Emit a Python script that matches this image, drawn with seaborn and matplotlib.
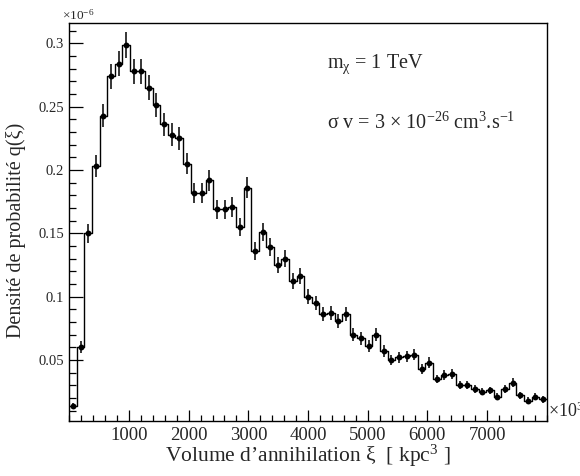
import numpy as np
import pandas as pd
import matplotlib
matplotlib.use("Agg")
import matplotlib.pyplot as plt
import seaborn as sns
from matplotlib.ticker import MultipleLocator, FixedLocator

# 63 bins over 0..8000 kpc^3 (axis scaled by 10^3)
x_min, x_max, n_bins = 0, 8000, 63

# bin contents, in units of 10^-6
density = [
    0.014, 0.060, 0.150, 0.203, 0.243, 0.274, 0.284, 0.299, 0.278, 0.278,
    0.265, 0.251, 0.236, 0.228, 0.225, 0.205, 0.182, 0.182, 0.192, 0.169,
    0.169, 0.171, 0.155, 0.186, 0.136, 0.151, 0.139, 0.125, 0.130, 0.112,
    0.116, 0.100, 0.095, 0.086, 0.087, 0.081, 0.086, 0.070, 0.067, 0.061,
    0.070, 0.057, 0.050, 0.052, 0.053, 0.054, 0.043, 0.048, 0.035, 0.038,
    0.039, 0.030, 0.030, 0.027, 0.025, 0.026, 0.021, 0.027, 0.032, 0.022,
    0.018, 0.021, 0.019,
]
# statistical errors, same units
errors = [
    0.0022, 0.0046, 0.0073, 0.0085, 0.0093, 0.0098, 0.0100, 0.0103, 0.0099, 0.0099,
    0.0097, 0.0094, 0.0091, 0.0090, 0.0089, 0.0085, 0.0080, 0.0080, 0.0082, 0.0077,
    0.0077, 0.0078, 0.0074, 0.0081, 0.0069, 0.0073, 0.0070, 0.0066, 0.0068, 0.0063,
    0.0064, 0.0059, 0.0058, 0.0055, 0.0055, 0.0054, 0.0055, 0.0050, 0.0049, 0.0046,
    0.0050, 0.0045, 0.0042, 0.0043, 0.0043, 0.0044, 0.0039, 0.0041, 0.0035, 0.0037,
    0.0037, 0.0033, 0.0033, 0.0031, 0.0030, 0.0030, 0.0027, 0.0031, 0.0034, 0.0028,
    0.0025, 0.0027, 0.0026,
]

x_ticks = [1000, 2000, 3000, 4000, 5000, 6000, 7000]
x_ticklabels = ["1000", "2000", "3000", "4000", "5000", "6000", "7000"]
y_ticks = [0.05, 0.10, 0.15, 0.20, 0.25, 0.30]
y_ticklabels = ["0.05", "0.1", "0.15", "0.2", "0.25", "0.3"]

edges = np.linspace(x_min, x_max, n_bins + 1)
centers = 0.5 * (edges[:-1] + edges[1:])
df = pd.DataFrame({"xi": centers, "q": density, "err": errors})

sns.set_style("white")
plt.rcParams["font.family"] = ["Liberation Serif", "DejaVu Serif"]
plt.rcParams["mathtext.fontset"] = "custom"
plt.rcParams["mathtext.rm"] = "Liberation Serif"
plt.rcParams["mathtext.it"] = "Liberation Serif:italic"

fig = plt.figure(figsize=(5.8, 4.76), dpi=100)
ax = fig.add_axes([0.1195, 0.1155, 0.8231, 0.8355])

# histogram outline
sns.histplot(data=df, x="xi", weights="q", bins=list(edges), element="step",
             fill=False, color="black", linewidth=1.0, ax=ax)
# error bars + markers
ax.errorbar(df["xi"], df["q"], yerr=df["err"], fmt="none", ecolor="black",
            elinewidth=1.1)
sns.scatterplot(data=df, x="xi", y="q", color="black", s=18, edgecolor="black",
                linewidth=0, ax=ax, zorder=5)

ax.set_xlim(x_min, x_max)
ax.set_ylim(0.0018, 0.3158)

ax.xaxis.set_major_locator(FixedLocator(x_ticks))
ax.set_xticklabels(x_ticklabels)
ax.xaxis.set_minor_locator(MultipleLocator(200))
ax.yaxis.set_major_locator(FixedLocator(y_ticks))
ax.set_yticklabels(y_ticklabels)
ax.yaxis.set_minor_locator(MultipleLocator(0.01))

ax.tick_params(axis="both", which="both", direction="in", bottom=True, left=True,
               top=False, right=False, color="black", width=0.9)
ax.tick_params(axis="x", which="major", length=8, labelsize=13.5, pad=4)
ax.tick_params(axis="x", which="minor", length=4)
ax.tick_params(axis="y", which="major", length=10, labelsize=10.5, pad=4)
ax.tick_params(axis="y", which="minor", length=5)
for s in ax.spines.values():
    s.set_color("black")
    s.set_linewidth(1.0)

ax.set_xlabel("Volume d\u2019annihilation \u03be  [ kpc$^{3}$ ]", fontsize=15.5)
ax.set_ylabel("Densit\u00e9 de probabilit\u00e9 q(\u03be)", fontsize=14.5)
ax.xaxis.set_label_coords(0.5, -0.055)
ax.yaxis.set_label_coords(-0.09, 0.48)

ax.text(-0.015, 1.003, "$\\times$10$^{-6}$", transform=ax.transAxes,
        fontsize=9.5, ha="left", va="bottom")
ax.text(1.003, 0.025, "$\\times$10$^{3}$", transform=ax.transAxes,
        fontsize=13, ha="left", va="center")

ax.text(0.539, 0.887, "m$_{\\mathrm{\\chi}}$ = 1 TeV", transform=ax.transAxes,
        fontsize=14.5, ha="left", va="baseline")
ax.text(0.539, 0.736, "\u03c3 v = 3 $\\times$ 10$^{-26}$ cm$^{3}$.s$^{-1}$",
        transform=ax.transAxes, fontsize=14.5, ha="left", va="baseline")

fig.savefig("out.png", dpi=100)
